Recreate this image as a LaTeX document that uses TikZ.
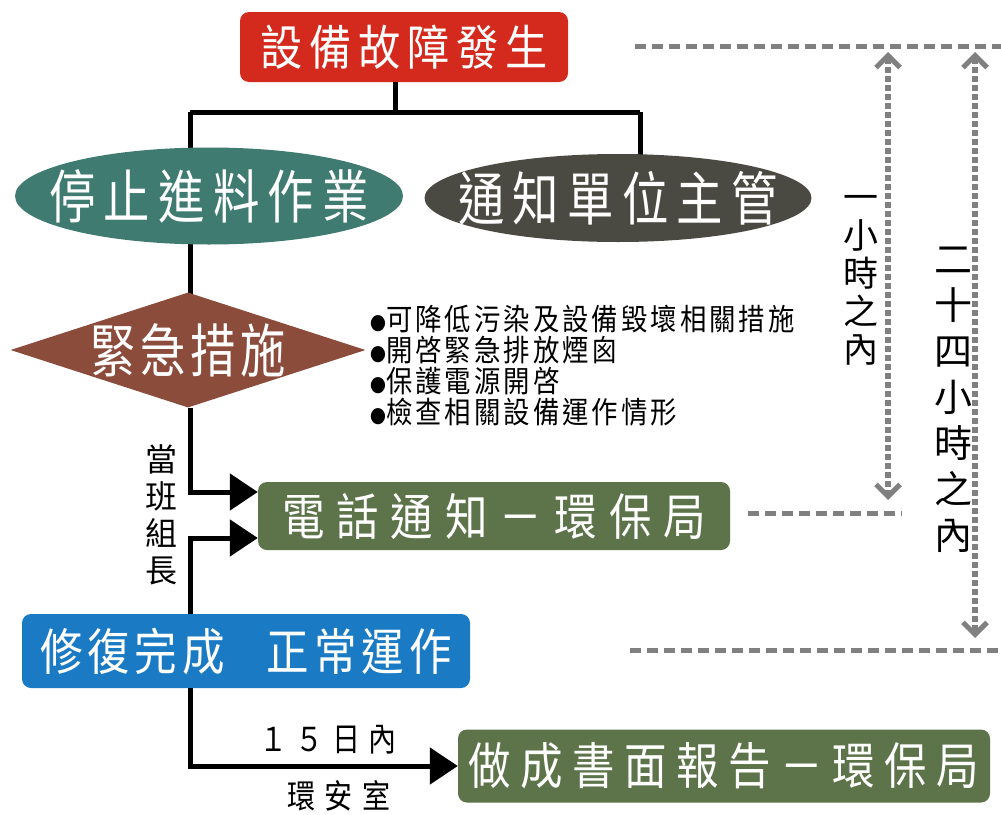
\documentclass[tikz,border=0pt]{standalone}
\usepackage{fontspec}
\setmainfont{Noto Sans CJK TC}
\usetikzlibrary{arrows.meta,shapes.geometric}
\pgfdeclarelayer{background}
\pgfsetlayers{background,main}
\definecolor{cred}{HTML}{D42A1E}
\definecolor{cteal}{HTML}{3F7B70}
\definecolor{cdark}{HTML}{4B4A42}
\definecolor{cbrown}{HTML}{8B4C3C}
\definecolor{cgreen}{HTML}{5D7349}
\definecolor{cblue}{HTML}{1A7BC4}
\definecolor{cgray}{HTML}{808080}
\newcommand\mycjk[3]{\fontsize{#1}{#1}\selectfont\addfontfeatures{FakeStretch=#2,LetterSpace=#3}}
\tikzset{
  box/.style={rectangle, rounded corners=9pt, inner sep=0pt, text=white},
  ell/.style={ellipse, inner sep=0pt},
  conn/.style={line width=5pt, black},
  arr/.style={conn, -{Triangle[length=28pt,width=36pt]}},
  gdash/.style={line width=5pt, cgray, dash pattern=on 11pt off 6pt},
  garrow/.style={line width=6pt, cgray, dash pattern=on 6pt off 3pt, {Straight Barb[length=12pt,width=24pt,line width=5pt]}-{Straight Barb[length=12pt,width=24pt,line width=5pt]}},
  lbl/.style={inner sep=0pt, text=black},
}
\begin{document}
\begin{tikzpicture}[x=1pt,y=-1pt]
\useasboundingbox (0,0) rectangle (1001,814);
% nodes
\node[box, fill=cred, minimum width=328, minimum height=70, font=\mycjk{48}{0.88}{14}] (top) at (404,47) {設備故障發生};
\node[ell, fill=cteal, minimum width=388, minimum height=97] (stop) at (209,196) {};
\node[lbl, text=white, font=\mycjk{58}{0.8}{14}] (stopt) at (stop.center) {停止進料作業};
\node[ell, fill=cdark, minimum width=387, minimum height=88] (notify) at (618,198) {};
\node[lbl, text=white, font=\mycjk{58}{0.8}{14}] (notifyt) at (notify.center) {通知單位主管};
\node[diamond, fill=cbrown, minimum width=355, minimum height=115, inner sep=0pt] (em) at (188,350) {};
\node[lbl, text=white, font=\mycjk{58}{0.78}{8}] (emt) at (em.center) {緊急措施};
\node[lbl, anchor=north west, align=left, font=\mycjk{30}{0.88}{10}] (list) at (370,305)
  {{\fontsize{18}{20}\selectfont●}可降低污染及設備毀壞相關措施\\[1pt]
   {\fontsize{18}{20}\selectfont●}開啓緊急排放煙囪\\[1pt]
   {\fontsize{18}{20}\selectfont●}保護電源開啓\\[1pt]
   {\fontsize{18}{20}\selectfont●}檢查相關設備運作情形};
\node[box, fill=cgreen, minimum width=472, minimum height=68, font=\mycjk{50}{0.85}{24}] (phone) at (494,516) {電話通知－環保局};
\node[box, fill=cblue, minimum width=448, minimum height=74, font=\mycjk{50}{0.85}{10}] (repair) at (246,651) {修復完成\hspace{42pt}正常運作};
\node[box, fill=cgreen, minimum width=532, minimum height=73, font=\mycjk{50}{0.85}{19}] (report) at (724,766) {做成書面報告－環保局};
% labels
\node[lbl, align=center, font=\fontsize{32}{37}\selectfont] (leader) at (161,515) {當\\班\\組\\長};
\node[lbl, font=\mycjk{33}{0.85}{25}] (days) at (328,740) {１５日內};
\node[lbl, font=\mycjk{33}{0.85}{28}] (office) at (339,796) {環安室};
\node[lbl, align=center, font=\fontsize{35}{38}\selectfont] (onehr) at (861,280) {一\\小\\時\\之\\內};
\node[lbl, align=center, font=\fontsize{38}{46}\selectfont] (dayhr) at (953,400) {二\\十\\四\\小\\時\\之\\內};
% coordinates
\coordinate (jT) at (395,112);
\coordinate (jL) at (190,112);
\coordinate (jR) at (640,112);
\coordinate (d1a) at (635,46);  \coordinate (d1b) at (1001,46);
\coordinate (d2a) at (748,513); \coordinate (d2b) at (902,513);
\coordinate (d3a) at (630,650); \coordinate (d3b) at (1001,650);
\coordinate (v1a) at (888,52);  \coordinate (v1b) at (888,500);
\coordinate (v2a) at (975,52);  \coordinate (v2b) at (975,638);
\begin{pgfonlayer}{background}
\draw[conn] (top.south -| jT) -- (jT);
\draw[conn] (jL) -- (jR);
\draw[conn] (jL) -- (jL |- stop.center);
\draw[conn] (jR) -- (jR |- notify.center);
\draw[conn] (jL |- stop.center) -- (jL |- em.center);
\end{pgfonlayer}
\draw[arr] (jL |- em.south) |- ([yshift=24pt]phone.west);
\draw[arr] (jL |- repair.north) |- ([yshift=-22pt]phone.west);
\draw[arr] (jL |- repair.south) |- (report.west);
\draw[gdash] (d1a) -- (d1b);
\draw[gdash] (d2a) -- (d2b);
\draw[gdash] (d3a) -- (d3b);
\draw[garrow] (v1a) -- (v1b);
\draw[garrow] (v2a) -- (v2b);
\end{tikzpicture}
\end{document}
